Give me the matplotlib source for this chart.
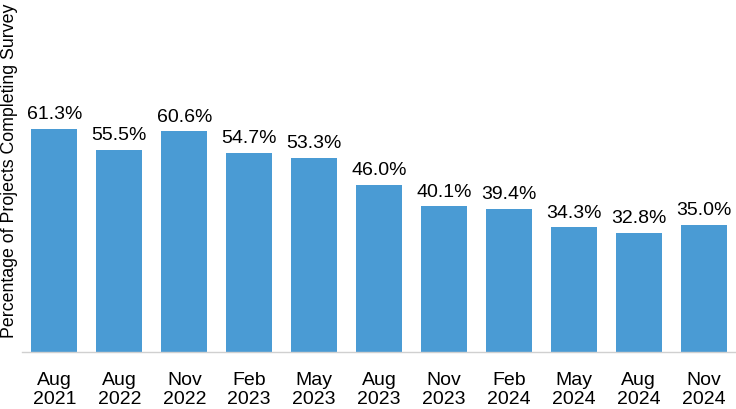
import matplotlib.pyplot as plt

plt.rcParams['font.family'] = ['Liberation Sans', 'DejaVu Sans']

periods = ['Aug\n2021', 'Aug\n2022', 'Nov\n2022', 'Feb\n2023', 'May\n2023', 'Aug\n2023',
           'Nov\n2023', 'Feb\n2024', 'May\n2024', 'Aug\n2024', 'Nov\n2024']
pct = [61.3, 55.5, 60.6, 54.7, 53.3, 46.0, 40.1, 39.4, 34.3, 32.8, 35.0]

fig = plt.figure(figsize=(7.36, 4.10), dpi=100)
ax = fig.add_axes([22/736, 1 - 353/410, 714/736, 353/410])

x = range(len(pct))
bars = ax.bar(x, pct, width=0.71, color='#4a9bd4')
for i, v in enumerate(pct):
    ax.text(i, v + 1.8, f'{v:.1f}%', ha='center', va='bottom', fontsize=14, color='black')

ax.set_xlim(-0.5, len(pct) - 0.5)
ax.set_ylim(0, 97)
ax.set_xticks(list(x))
ax.set_xticklabels(periods, fontsize=14, linespacing=1.15)
ax.tick_params(axis='x', length=0, pad=14)
ax.set_yticks([])
for s in ['top', 'right', 'left']:
    ax.spines[s].set_visible(False)
ax.spines['bottom'].set_color('#d0d0d0')
ax.spines['bottom'].set_linewidth(1)

# y label placed directly so it hugs the left edge
fig.text(1/736, 1 - 171/410, 'Percentage of Projects Completing Survey', fontsize=12.8,
         rotation=90, ha='left', va='center')

fig.savefig('out.png', dpi=100)
